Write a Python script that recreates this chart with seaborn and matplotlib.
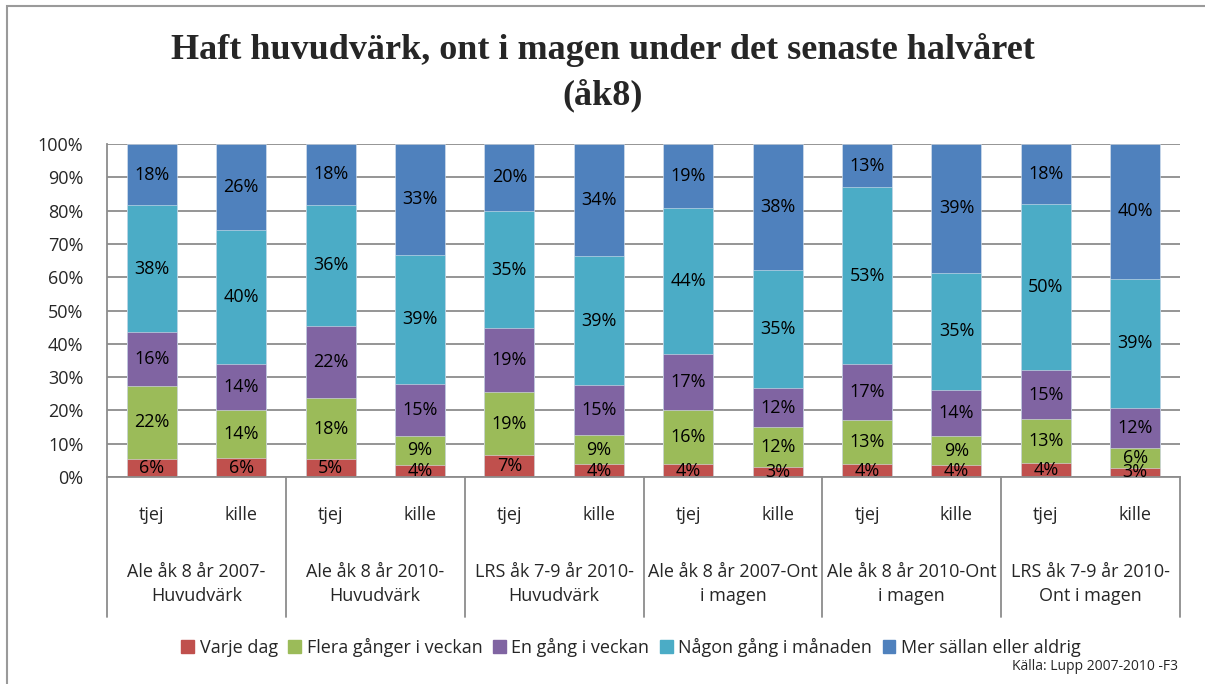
import matplotlib
matplotlib.use("Agg")
import matplotlib.pyplot as plt
import matplotlib.transforms as mtransforms
from matplotlib.patches import Rectangle
import seaborn as sns
import pandas as pd
import numpy as np

# data (percent)
groups = ["Ale åk 8 år 2007-\nHuvudvärk", "Ale åk 8 år 2010-\nHuvudvärk",
          "LRS åk 7-9 år 2010-\nHuvudvärk", "Ale åk 8 år 2007-Ont\ni magen",
          "Ale åk 8 år 2010-Ont\ni magen", "LRS åk 7-9 år 2010-\nOnt i magen"]
genders = ["tjej", "kille"]
series = ["Varje dag", "Flera gånger i veckan", "En gång i veckan",
          "Någon gång i månaden", "Mer sällan eller aldrig"]
colors = ["#C0504D", "#9BBB59", "#8064A2", "#4BACC6", "#4F81BD"]

varje_dag = [5.5, 5.6, 5.4, 3.6, 6.6, 3.8, 3.8, 3.0, 3.8, 3.6, 4.1, 2.8]
flera_ggr = [21.9, 14.4, 18.2, 8.8, 18.8, 8.8, 16.3, 11.9, 13.4, 8.6, 13.2, 6.0]
en_gang = [16.1, 13.8, 21.8, 15.4, 19.2, 14.9, 16.8, 11.8, 16.6, 13.9, 14.8, 11.8]
nagon_gang = [38.1, 40.4, 36.4, 39.0, 35.3, 38.9, 44.0, 35.4, 53.2, 35.2, 49.9, 39.0]
mer_sallan = [18.4, 25.8, 18.2, 33.2, 20.1, 33.6, 19.1, 37.9, 13.0, 38.7, 18.0, 40.4]

values = [varje_dag, flera_ggr, en_gang, nagon_gang, mer_sallan]
bar_names = [f"{g}|{s}" for g in range(len(groups)) for s in genders]

df = pd.DataFrame({"bar": bar_names})
for name, vals in zip(series, values):
    df[name] = np.array(vals) / 100.0
cum = df[series].cumsum(axis=1)

sns.set_style("white")
plt.rcParams["font.family"] = ["Open Sans", "DejaVu Sans"]

fig = plt.figure(figsize=(12.05, 6.84), dpi=100)
ax = fig.add_axes([107 / 1205, 1 - 477 / 684, (1180 - 107) / 1205, (477 - 144) / 684])

# gridlines behind bars
ax.set_axisbelow(True)
ax.yaxis.grid(True, color="#8c8c8c", lw=1.3)

# stacked bars: draw cumulative totals from top layer down
for i in range(len(series) - 1, -1, -1):
    sns.barplot(x=df["bar"], y=cum[series[i]], color=colors[i], width=0.56,
                saturation=1, ax=ax, edgecolor="#dde6f0", linewidth=0.4, zorder=2)

# segment labels
for i, name in enumerate(series):
    mids = cum[name] - df[name] / 2
    for j in range(len(df)):
        ax.text(j, mids.iloc[j], f"{round(df[name].iloc[j] * 100)}%",
                ha="center", va="center", fontsize=13, color="black", zorder=5)

ax.set_xlim(-0.5, len(df) - 0.5)
ax.set_ylim(0, 1)
ax.set_yticks(np.arange(0, 1.01, 0.1))
ax.set_yticklabels([f"{int(round(v * 100))}%" for v in np.arange(0, 1.01, 0.1)], fontsize=13)
ax.set_xticks(range(len(df)))
ax.set_xticklabels([s for _ in groups for s in genders], fontsize=13)
ax.tick_params(axis="x", length=0, pad=21)
ax.tick_params(axis="y", length=0, pad=17)
ax.set_xlabel("")
ax.set_ylabel("")
for side in ["top", "right"]:
    ax.spines[side].set_visible(False)
for side in ["left", "bottom"]:
    ax.spines[side].set_color("#8c8c8c")
    ax.spines[side].set_linewidth(1.3)

# group labels and separators under the axis
trans = mtransforms.blended_transform_factory(ax.transData, ax.transAxes)
for g, label in enumerate(groups):
    ax.text(2 * g + 0.5, -0.322, label, transform=trans, ha="center", va="center",
            fontsize=13, linespacing=1.45)
for b in np.arange(-0.5, len(df), 2):
    ax.plot([b, b], [0, -0.42], transform=trans, color="#8c8c8c", lw=1.3, clip_on=False)

# legend
handles = [Rectangle((0, 0), 1, 1, color=c) for c in colors]
fig.legend(handles, series, loc="center", bbox_to_anchor=(631 / 1205, 1 - 647 / 684),
           ncol=5, frameon=False, fontsize=13, handlelength=0.7, handleheight=0.7,
           handletextpad=0.3, columnspacing=0.6)

fig.text(1178 / 1205, 1 - 667 / 684, "Källa: Lupp 2007-2010 -F3", ha="right", va="center",
         fontsize=10)

fig.text(0.5, 1 - 50 / 684, "Haft huvudvärk, ont i magen under det senaste halvåret",
         ha="center", va="center", fontsize=26, fontweight="bold", family="Liberation Serif")
fig.text(0.5, 1 - 95 / 684, "(åk8)", ha="center", va="center", fontsize=26,
         fontweight="bold", family="Liberation Serif")

# outer frame
fig.patches.append(Rectangle((7 / 1205, -0.5), 2, 1.5 - 6 / 684, transform=fig.transFigure,
                             fill=False, edgecolor="#9a9a9a", lw=1.5))

fig.savefig("out.png", dpi=100)
